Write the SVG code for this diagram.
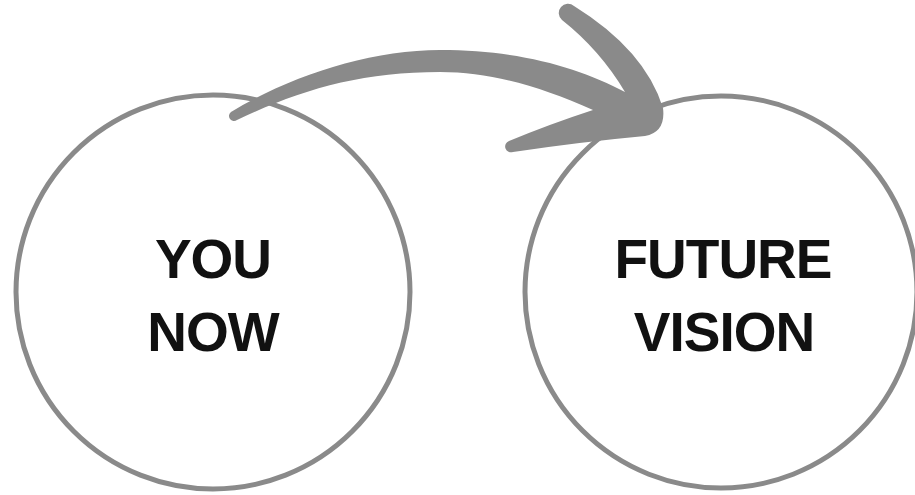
<svg xmlns="http://www.w3.org/2000/svg" width="915" height="495" viewBox="0 0 915 495">
<style>
.node circle{fill:none;stroke:#8a8a8a;stroke-width:5}
.label{font-family:"Liberation Sans",Arial,sans-serif;font-weight:bold;font-size:55px;fill:#111;text-anchor:middle;letter-spacing:-1px}
.arrow{fill:#8a8a8a}
</style>
<rect width="915" height="495" fill="#fff"/>
<g id="you-now" class="node">
<circle cx="213" cy="292" r="197"/>
<text class="label" x="213" y="278">YOU</text>
<text class="label" x="213" y="351">NOW</text>
</g>
<g id="future-vision" class="node">
<circle cx="721" cy="292" r="196"/>
<text class="label" x="723" y="278">FUTURE</text>
<text class="label" x="724" y="351">VISION</text>
</g>
<g id="connectors">
<path class="arrow" d="M 237,120 A 5 5 0 0 1 231,112 C 290,76 370,50 440,50 C 520,50 580,68 625,92 Q 600,50 562,20 A 7.5 7.5 0 0 1 574,6 Q 645,50 663,108 Q 666,132 645,136 Q 580,142 513,152 A 5.5 5.5 0 0 1 509,141 Q 550,124 593,110 C 540,86 490,72 440,72 C 360,72 300,90 237,120 Z"/>
</g>
</svg>
